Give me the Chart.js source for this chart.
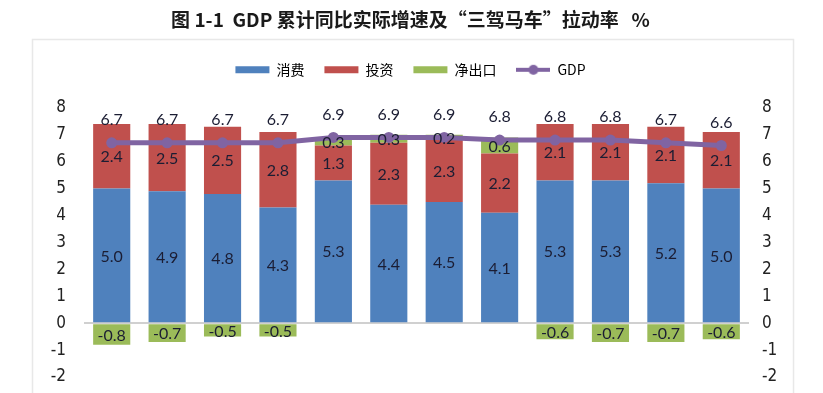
<!DOCTYPE html>
<html>
<head>
<meta charset="utf-8">
<script src="https://cdn.jsdelivr.net/npm/chart.js@4.4.1/dist/chart.umd.min.js"></script>
<style>
  html, body { margin: 0; padding: 0; background: #fff; }
  #wrap { width: 823px; height: 393px; }
</style>
</head>
<body>
<div id="wrap"><canvas id="gdpChart" width="823" height="393"></canvas></div>
<script>
// quarters (cumulative), x labels are cut off in the source picture
const quarters = ['2016Q1', '2016Q2', '2016Q3', '2016Q4', '2017Q1', '2017Q2', '2017Q3', '2017Q4', '2018Q1', '2018Q2', '2018Q3', '2018Q4'];
const consumption = [5.0, 4.9, 4.8, 4.3, 5.3, 4.4, 4.5, 4.1, 5.3, 5.3, 5.2, 5.0];
const investment = [2.4, 2.5, 2.5, 2.8, 1.3, 2.3, 2.3, 2.2, 2.1, 2.1, 2.1, 2.1];
const netExports = [-0.8, -0.7, -0.5, -0.5, 0.3, 0.3, 0.2, 0.6, -0.6, -0.7, -0.7, -0.6];
const gdp = [6.7, 6.7, 6.7, 6.7, 6.9, 6.9, 6.9, 6.8, 6.8, 6.8, 6.7, 6.6];
const yTicks = [-2, -1, 0, 1, 2, 3, 4, 5, 6, 7, 8];

const BLUE = '#4F81BD', RED = '#C0504D', GREEN = '#9BBB59', PURPLE = '#8064A2';
const tickFont = { family: '"Liberation Sans Narrow", "DejaVu Sans Condensed", "Liberation Sans", sans-serif', size: 17 };

// legend marker for the GDP line: line with a dot
const gdpMark = document.createElement('canvas');
gdpMark.width = 34; gdpMark.height = 12;
(function () {
  const c = gdpMark.getContext('2d');
  c.strokeStyle = PURPLE; c.lineWidth = 4;
  c.beginPath(); c.moveTo(0, 6); c.lineTo(34, 6); c.stroke();
  c.fillStyle = PURPLE;
  c.beginPath(); c.arc(17, 6, 5, 0, Math.PI * 2); c.fill();
})();

// faint frame round the plot, under the title
const frame = {
  id: 'frame',
  beforeDraw(chart) {
    const ctx = chart.ctx;
    ctx.save();
    ctx.strokeStyle = '#e8e8e8';
    ctx.lineWidth = 1.5;
    ctx.strokeRect(32.5, 39.5, 761, 400);
    ctx.restore();
  }
};

// more room under the legend
const legendGap = {
  id: 'legendGap',
  beforeInit(chart) {
    const fit = chart.legend.fit;
    chart.legend.fit = function () {
      fit.bind(chart.legend)();
      this.height += 21;
    };
  }
};

// value labels: centred in bar segments, above the GDP points
const valueLabels = {
  id: 'valueLabels',
  afterDatasetsDraw(chart) {
    const ctx = chart.ctx;
    ctx.save();
    ctx.font = '16px Lato, "Open Sans", sans-serif';
    ctx.fillStyle = '#1b1d33';
    ctx.textAlign = 'center';
    ctx.textBaseline = 'middle';
    chart.data.datasets.forEach((ds, i) => {
      const meta = chart.getDatasetMeta(i);
      meta.data.forEach((el, j) => {
        const v = ds.data[j];
        if (v === null || v === undefined) return;
        if (ds.type === 'line') {
          ctx.fillText(v.toFixed(1), el.x, el.y - 23);
        } else {
          ctx.fillText(v.toFixed(1), el.x, (el.y + el.base) / 2 + 1);
        }
      });
    });
    ctx.restore();
  }
};

// tick padding should not push the plot away from the bottom
function fixAxis(width) {
  return function (scale) {
    scale.width = width;
    scale.paddingTop = 10;
    scale.paddingBottom = 10;
  };
}

new Chart(document.getElementById('gdpChart').getContext('2d'), {
  data: {
    labels: quarters,
    datasets: [
      { type: 'bar', label: '消费', data: consumption, backgroundColor: BLUE, stack: 's', order: 1 },
      { type: 'bar', label: '投资', data: investment, backgroundColor: RED, stack: 's', order: 1 },
      { type: 'bar', label: '净出口', data: netExports, backgroundColor: GREEN, stack: 's', order: 1 },
      {
        type: 'line', label: 'GDP', data: gdp, borderColor: PURPLE, backgroundColor: PURPLE,
        borderWidth: 5, pointRadius: 5.5, pointHoverRadius: 5.5, pointBorderWidth: 0,
        tension: 0, order: 0
      }
    ]
  },
  options: {
    responsive: false,
    animation: false,
    layout: { padding: { left: 32, right: 34, top: 0, bottom: 16 } },
    datasets: {
      bar: { barPercentage: 0.67, categoryPercentage: 1 }
    },
    plugins: {
      title: {
        display: true,
        text: '图 1-1  GDP 累计同比实际增速及“三驾马车”拉动率   %',
        color: '#1a1a1a',
        font: { family: '"Noto Sans CJK SC", sans-serif', size: 19, weight: 'bold' },
        padding: { top: 8, bottom: 12 }
      },
      legend: {
        display: true,
        position: 'top',
        labels: {
          usePointStyle: true,
          pointStyleWidth: 34,
          boxHeight: 7,
          padding: 20,
          color: '#222',
          font: { family: '"Noto Sans CJK SC", sans-serif', size: 14 },
          generateLabels(chart) {
            return chart.data.datasets.map((ds, i) => ({
              text: ds.label,
              fillStyle: ds.backgroundColor,
              strokeStyle: ds.backgroundColor,
              lineWidth: 0,
              pointStyle: ds.type === 'line' ? gdpMark : 'rect',
              datasetIndex: i,
              hidden: false
            }));
          }
        }
      },
      tooltip: { enabled: false }
    },
    scales: {
      x: { display: false, stacked: true },
      y: {
        position: 'left',
        stacked: true,
        min: -2, max: 8,
        afterBuildTicks(scale) { scale.ticks = yTicks.map(v => ({ value: v })); },
        afterFit: fixAxis(52),
        grid: {
          drawTicks: false,
          lineWidth: 2,
          color: ctx => (ctx.tick && ctx.tick.value === 0 ? '#d0d0d0' : 'rgba(0,0,0,0)')
        },
        border: { display: false },
        ticks: { padding: 18, color: '#222', font: tickFont }
      },
      y2: {
        position: 'right',
        min: -2, max: 8,
        afterBuildTicks(scale) { scale.ticks = yTicks.map(v => ({ value: v })); },
        afterFit: fixAxis(40),
        grid: { display: false },
        border: { display: false },
        ticks: { padding: 5, color: '#222', font: tickFont }
      }
    }
  },
  plugins: [frame, legendGap, valueLabels]
});
</script>
</body>
</html>
